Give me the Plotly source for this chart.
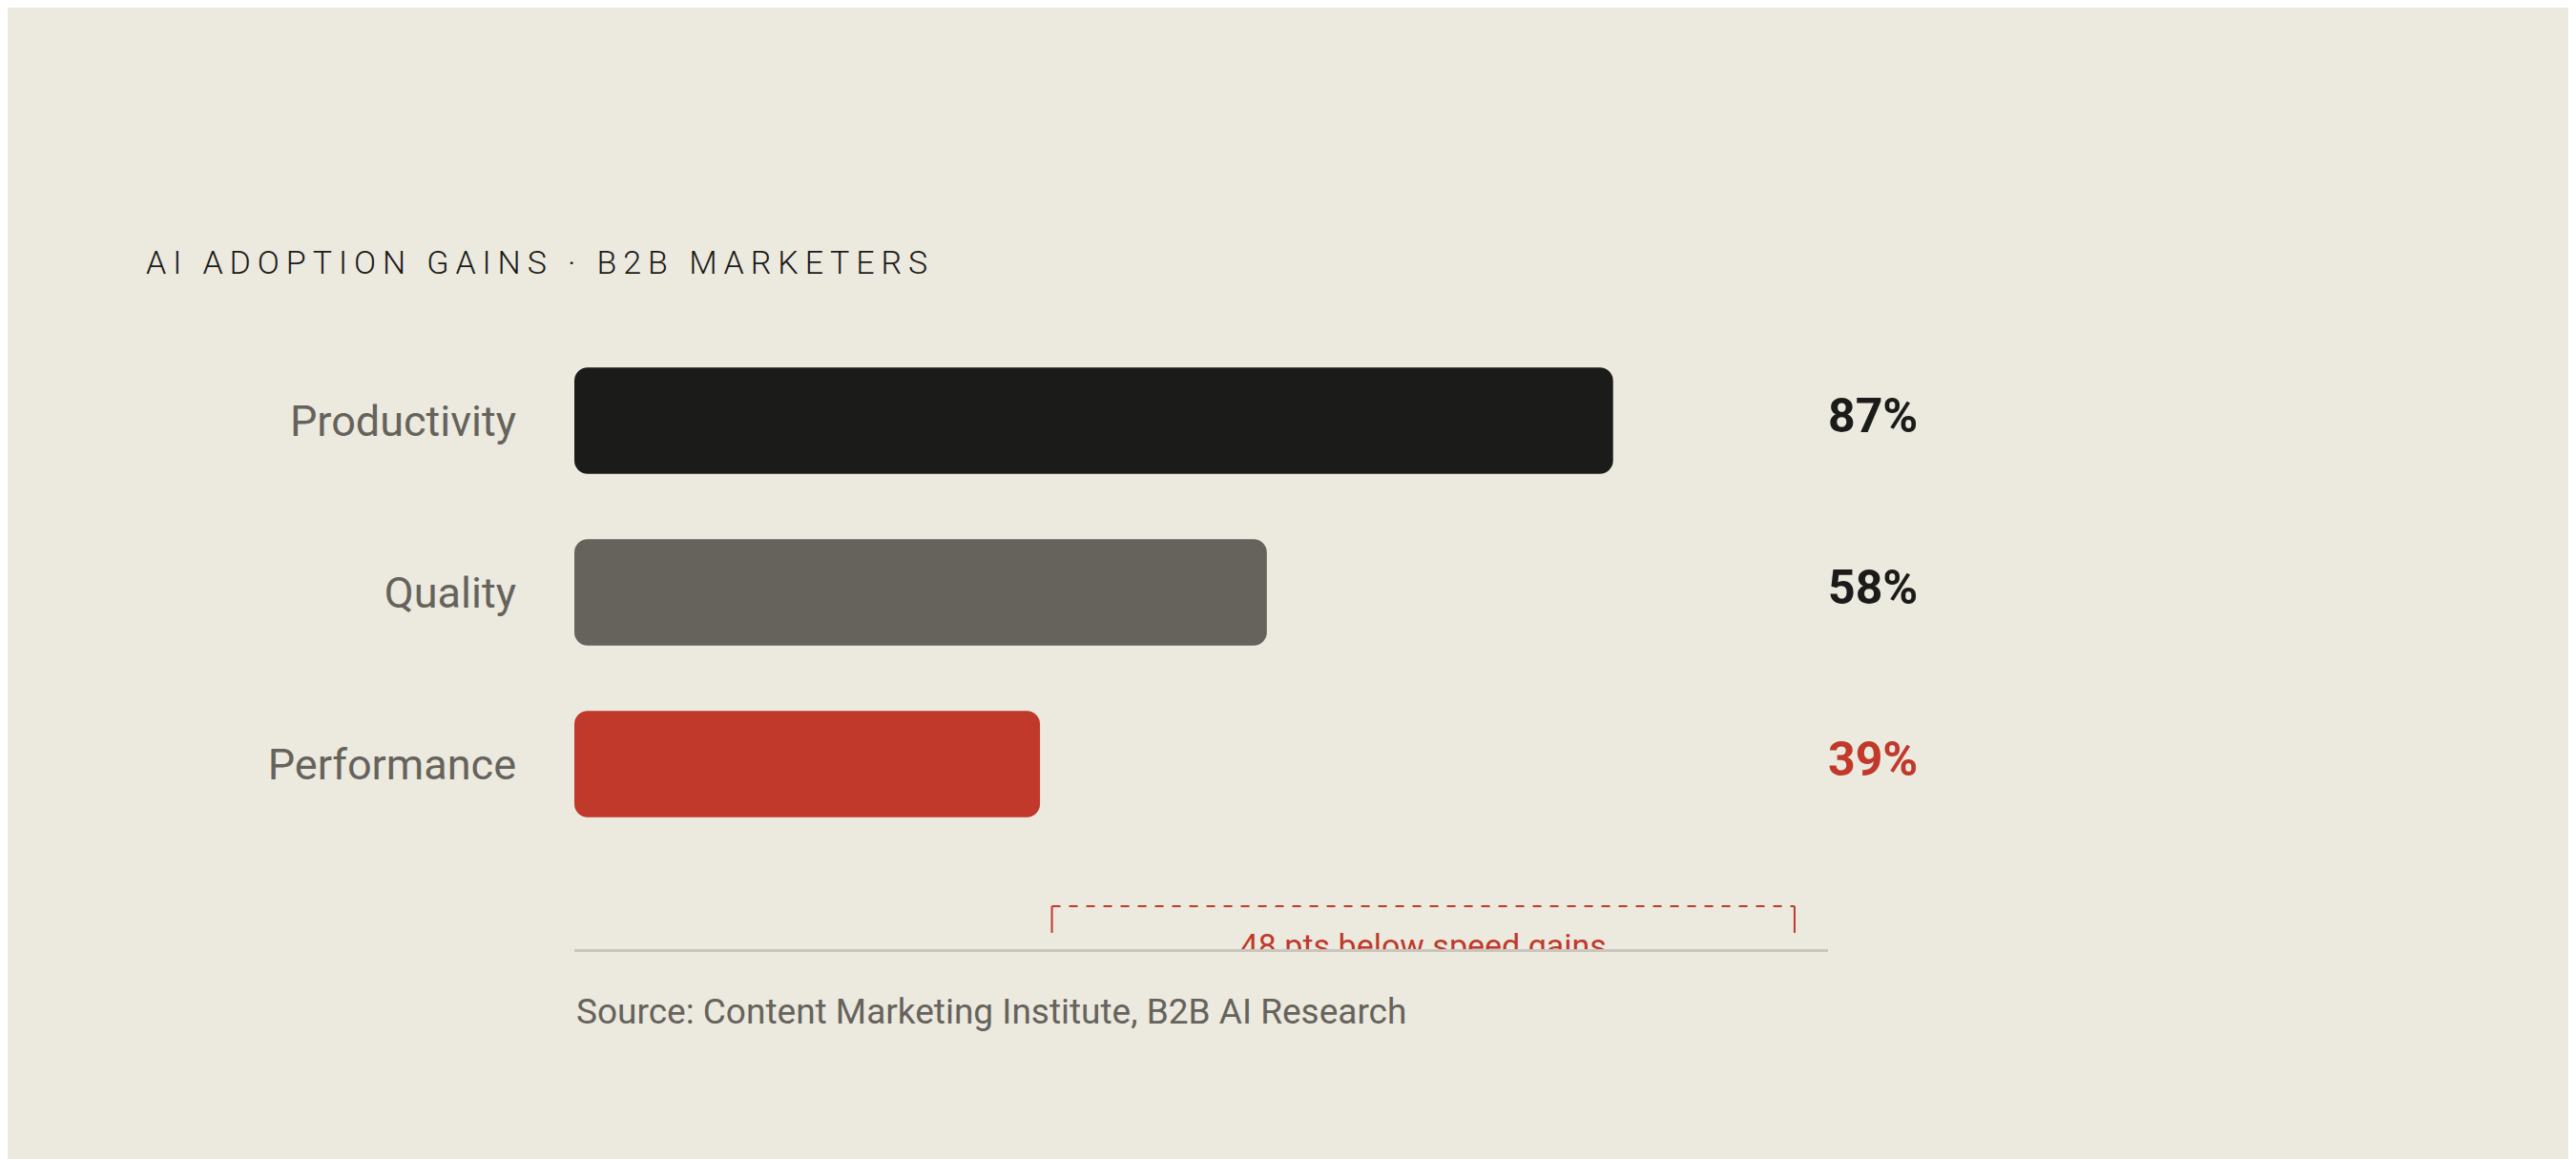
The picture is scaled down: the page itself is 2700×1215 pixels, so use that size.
import plotly.graph_objects as go

# chart data
categories = ["Productivity", "Quality", "Performance"]
values = [87, 58, 39]
bar_colors = ["#1b1b19", "#65635c", "#c0392b"]
label_colors = ["#1b1b19", "#1b1b19", "#c0392b"]

title_text = "AI ADOPTION GAINS · B2B MARKETERS"
source_text = "Source: Content Marketing Institute, B2B AI Research"
gap_text = f"{values[0] - values[2]} pts below speed gains"

BG = "#ece9df"
RED = "#c0392b"
FONT = "Roboto, 'Noto Sans', sans-serif"

rows = list(range(len(categories)))


def spaced(s, sep="\u2009"):
    # poor man's letter-spacing
    return sep.join(s)


fig = go.Figure()

# explicit base -> plotly rounds both ends of the bar
fig.add_trace(go.Bar(
    x=values,
    base=[0] * len(values),
    y=rows,
    orientation="h",
    width=0.62,
    marker=dict(color=bar_colors, cornerradius=14, line=dict(width=0)),
    hoverinfo="skip",
))

# value labels to the right of the plot area
fig.add_trace(go.Scatter(
    x=[105] * len(values),
    y=rows,
    mode="text",
    text=[f"{v}%" for v in values],
    textposition="middle right",
    textfont=dict(family=FONT, size=50, color=label_colors, weight=700),
    cliponaxis=False,
    hoverinfo="skip",
))

# bracket between lowest and highest gain
br_x0, br_x1 = 40, 102.2
br_top, br_bot = 2.828, 2.983
fig.add_shape(type="line", x0=br_x0, x1=br_x1, y0=br_top, y1=br_top,
              line=dict(color=RED, width=2, dash="dash"))
fig.add_shape(type="line", x0=br_x0, x1=br_x0, y0=br_top, y1=br_bot,
              line=dict(color=RED, width=2))
fig.add_shape(type="line", x0=br_x1, x1=br_x1, y0=br_top, y1=br_bot,
              line=dict(color=RED, width=2))

# bracket caption, clipped by the bottom of the plot area
fig.add_trace(go.Scatter(
    x=[(br_x0 + br_x1) / 2],
    y=[3.075],
    mode="text",
    text=[gap_text],
    textposition="middle center",
    textfont=dict(family=FONT, size=34, color=RED),
    cliponaxis=True,
    hoverinfo="skip",
))

fig.update_layout(
    width=2700,
    height=1215,
    paper_bgcolor=BG,
    plot_bgcolor=BG,
    showlegend=False,
    margin=dict(l=594, r=792, t=330, b=228),
    title=dict(
        text=spaced(title_text),
        xref="container", yref="container",
        x=145 / 2700, xanchor="left",
        y=1 - 267 / 1215, yanchor="middle",
        font=dict(family=FONT, size=34, color="#1b1b19", weight=300),
    ),
    annotations=[dict(
        text=source_text,
        xref="paper", yref="paper",
        x=0, xanchor="left",
        y=-65 / 657, yanchor="middle",
        showarrow=False,
        font=dict(family=FONT, size=37, color="#65635c"),
    )],
)

fig.update_xaxes(
    range=[0, 105],
    showgrid=False,
    zeroline=False,
    showticklabels=False,
    ticks="",
    showline=True,
    linecolor="#c9c6bd",
    linewidth=3,
)
fig.update_yaxes(
    range=[3.078, -0.572],
    tickvals=rows,
    ticktext=categories,
    showgrid=False,
    zeroline=False,
    ticks="",
    showline=False,
    ticklabelstandoff=60,
    tickfont=dict(family=FONT, size=45, color="#65635c"),
)

fig.write_html("out.html")
